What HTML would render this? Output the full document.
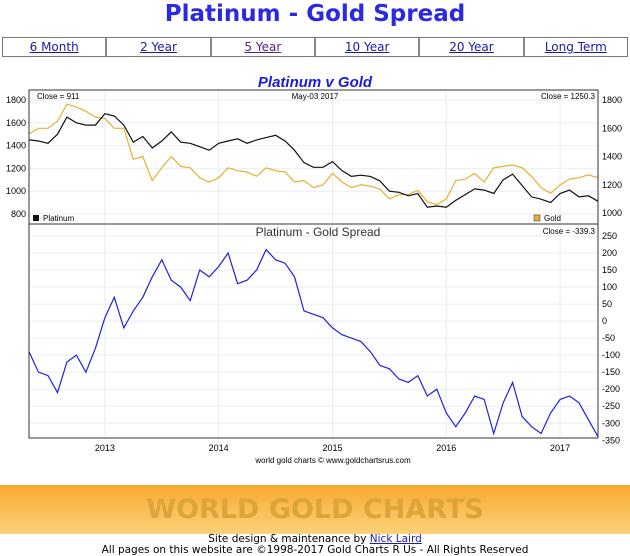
<!DOCTYPE html>
<html><head><meta charset="utf-8"><style>
body{margin:0;width:630px;height:556px;background:#fff;font-family:"Liberation Sans",sans-serif;overflow:hidden;position:relative}
#title{position:absolute;top:0;left:0;width:630px;text-align:center;font:bold 23px "DejaVu Sans",sans-serif;color:#2a2ae0;line-height:28px}
#nav{position:absolute;top:37px;left:2px;width:626px;height:20px;border:1px solid #777;display:flex;box-sizing:border-box}
#nav a{flex:1;text-align:center;font:12px "DejaVu Sans",sans-serif;color:#1a1aa6;line-height:18px;border-left:2px solid #888}
#nav a:first-child{border-left:none}
#banner{position:absolute;top:485px;left:0;width:630px;height:49px;background:linear-gradient(#f8a830,#fbd27a);text-align:center;font:bold 27px "DejaVu Sans",sans-serif;color:#dca53a;line-height:49px}
#foot{position:absolute;top:534px;left:0;width:630px;text-align:center;font:10.5px "DejaVu Sans",sans-serif;color:#000;line-height:11px}
#foot a{color:#1a1ab0}
</style></head><body>
<div id="title">Platinum - Gold Spread</div>
<div id="nav">
<a href="#">6 Month</a>
<a href="#">2 Year</a>
<a href="#" style="color:#552288">5 Year</a>
<a href="#">10 Year</a>
<a href="#">20 Year</a>
<a href="#">Long Term</a>
</div>
<svg id="chart" width="630" height="480" style="position:absolute;top:0;left:0" font-family="Liberation Sans, sans-serif"></svg>
<div id="banner">WORLD GOLD CHARTS</div>
<div id="foot">Site design &amp; maintenance by <a href="#">Nick Laird</a><br>All pages on this website are ©1998-2017 Gold Charts R Us - All Rights Reserved</div>
<script>
const gold=[1560,1600,1600,1650,1770,1750,1720,1680,1670,1600,1600,1380,1400,1230,1320,1400,1330,1320,1250,1220,1250,1320,1300,1290,1260,1320,1300,1290,1220,1230,1180,1200,1280,1220,1180,1200,1190,1170,1100,1130,1130,1160,1080,1060,1100,1230,1240,1280,1220,1320,1330,1340,1320,1260,1180,1140,1200,1240,1250,1270,1250.3];
const plat=[1450,1440,1420,1500,1650,1600,1580,1580,1680,1660,1580,1430,1480,1380,1440,1520,1430,1420,1390,1360,1420,1440,1460,1420,1450,1470,1490,1440,1360,1250,1210,1210,1260,1180,1130,1140,1130,1090,1000,990,960,980,860,870,860,920,970,1020,1010,980,1100,1150,1050,950,930,900,980,1010,950,960,911];
const spread=[-90,-150,-160,-210,-120,-100,-150,-80,10,70,-20,30,70,130,180,120,100,60,150,130,160,200,110,120,150,210,180,170,130,30,20,10,-20,-40,-50,-60,-90,-130,-140,-170,-180,-160,-220,-200,-270,-310,-270,-220,-230,-330,-240,-180,-280,-310,-330,-270,-230,-220,-240,-290,-339.3];
const years=[2013,2014,2015,2016,2017];
const platTicks=[800,1000,1200,1400,1600,1800];
const goldTicks=[1000,1200,1400,1600,1800];
const spreadTicks=[250,200,150,100,50,0,-50,-100,-150,-200,-250,-300,-350];
const NS='http://www.w3.org/2000/svg',svg=document.getElementById('chart');
const L=29,R=598,T=90,M=224,B=438;
const t0=2012+4/12,t1=2017+4/12;
const x=t=>L+(t-t0)/(t1-t0)*(R-L);
const xi=i=>x(t0+i/12);
const yP=v=>100+(1800-v)*0.114;
const yG=v=>100+(1800-v)*0.1413;
const yS=v=>253+(200-v)*0.3405;
function el(tag,a,txt){const e=document.createElementNS(NS,tag);for(const k in a)e.setAttribute(k,a[k]);if(txt!=null)e.textContent=txt;svg.appendChild(e);return e;}
const title=el('text',{x:315,y:87,'text-anchor':'middle','font-size':15,'font-weight':'bold','font-style':'italic',fill:'#1a1adf'},'Platinum v Gold');


// grid
years.forEach(yr=>{const X=x(yr);
const g=el('line',{x1:X,x2:X,y1:T,y2:B,stroke:'#e4ecf6'});


const t=el('text',{x:X,y:451,'text-anchor':'middle','font-size':9},yr);

});
platTicks.forEach(v=>{const Y=yP(v);
el('line',{x1:L,x2:R,y1:Y,y2:Y,stroke:'#e8eef6'});
const t=el('text',{x:26,y:Y+3,'text-anchor':'end','font-size':9},v);

});
goldTicks.forEach(v=>{const Y=yG(v);
const t=el('text',{x:602,y:Y+3,'font-size':9},v);

});
spreadTicks.forEach(v=>{const Y=yS(v);
if(Y<B)el('line',{x1:L,x2:R,y1:Y,y2:Y,stroke:'#e8eef6'});
const t=el('text',{x:602,y:Y+3,'font-size':9},v);

});
function line(arr,fy,col,name){const p=el('polyline',{points:arr.map((v,i)=>xi(i).toFixed(1)+','+fy(v).toFixed(1)).join(' '),fill:'none',stroke:col,'stroke-width':1.2});

}
line(gold,yG,'#e8b030','gold-line');
line(plat,yP,'#111','platinum-line');
line(spread,yS,'#2020e0','spread-line');
el('rect',{x:L,y:T,width:R-L,height:B-T,fill:'none',stroke:'#333'});
el('line',{x1:L,x2:R,y1:M,y2:M,stroke:'#333'});
function txt(s,a,n){const t=el('text',a,s);}
txt('Close = 911',{x:37,y:99,'font-size':8},'platinum-close');
txt('May-03  2017',{x:315,y:99,'font-size':8,'text-anchor':'middle'},'date-label');
txt('Close = 1250.3',{x:595,y:99,'font-size':8,'text-anchor':'end'},'gold-close');
el('rect',{x:33,y:215,width:6,height:6,fill:'#111'});
txt('Platinum',{x:43,y:221,'font-size':8},'legend-platinum');
el('rect',{x:534,y:215,width:6,height:6,fill:'#e8b030',stroke:'#333','stroke-width':0.5});
txt('Gold',{x:544,y:221,'font-size':8},'legend-gold');
txt('Platinum  -  Gold Spread',{x:318,y:236,'font-size':12,'text-anchor':'middle',fill:'#333'},'spread-title');
txt('Close = -339.3',{x:595,y:234,'font-size':8,'text-anchor':'end'},'spread-close');
txt('world gold charts © www.goldchartsrus.com',{x:333,y:463,'font-size':8,'text-anchor':'middle'},'credit');
</script>
</body></html>
